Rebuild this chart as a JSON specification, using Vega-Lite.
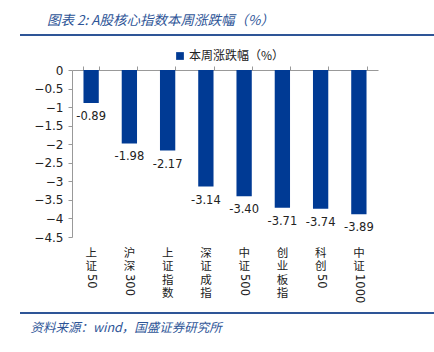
{
  "$schema": "https://vega.github.io/schema/vega-lite/v6.json",
  "width": 306,
  "height": 167,
  "autosize": "none",
  "padding": {"left": 72, "top": 70, "right": 56, "bottom": 115},
  "background": "white",
  "config": {
    "view": {"stroke": null},
    "font": "DejaVu Sans",
    "axisY": {
      "format": "~g",
      "tickCount": 10,
      "labelOverlap": false,
      "grid": false,
      "tickSize": 4,
      "domainColor": "#999",
      "tickColor": "#999",
      "labelFontSize": 12,
      "labelColor": "#222",
      "labelPadding": 5
    }
  },
  "title": {
    "text": "图表 2: A股核心指数本周涨跌幅（%）",
    "anchor": "start",
    "dx": 28,
    "offset": 7,
    "font": "Noto Sans CJK SC",
    "fontSize": 13.5,
    "fontStyle": "italic",
    "fontWeight": "normal",
    "color": "#2E5597"
  },
  "data": {
    "values": [
      {"name": "上证50", "digits": "50", "value": -0.89, "label": "-0.89", "series": "本周涨跌幅（%）"},
      {"name": "沪深300", "digits": "300", "value": -1.98, "label": "-1.98", "series": "本周涨跌幅（%）"},
      {"name": "上证指数", "digits": "", "value": -2.17, "label": "-2.17", "series": "本周涨跌幅（%）"},
      {"name": "深证成指", "digits": "", "value": -3.14, "label": "-3.14", "series": "本周涨跌幅（%）"},
      {"name": "中证500", "digits": "500", "value": -3.40, "label": "-3.40", "series": "本周涨跌幅（%）"},
      {"name": "创业板指", "digits": "", "value": -3.71, "label": "-3.71", "series": "本周涨跌幅（%）"},
      {"name": "科创50", "digits": "50", "value": -3.74, "label": "-3.74", "series": "本周涨跌幅（%）"},
      {"name": "中证1000", "digits": "1000", "value": -3.89, "label": "-3.89", "series": "本周涨跌幅（%）"}
    ]
  },
  "resolve": {"axis": {"x": "independent"}},
  "layer": [
    {
      "mark": {"type": "bar", "color": "#003A94"},
      "encoding": {
        "x": {
          "field": "name", "type": "nominal", "sort": null,
          "scale": {"paddingInner": 0.6, "paddingOuter": 0.3},
          "axis": {
            "orient": "bottom", "domain": false, "ticks": false, "labelAngle": 0,
            "labelExpr": "split(replace(datum.label, regexp('[0-9]+'), ''), '')",
            "labelFont": "Noto Sans CJK SC", "labelFontSize": 11.5, "labelLineHeight": 13.5,
            "labelBaseline": "top", "labelPadding": 10, "labelColor": "#222",
            "title": "资料来源：wind，国盛证券研究所",
            "titleAnchor": "start", "titleX": -42, "titleY": 90, "titleBaseline": "middle",
            "titleFont": "Noto Sans CJK SC", "titleFontSize": 12.5, "titleFontStyle": "italic",
            "titleFontWeight": "normal", "titleColor": "#2E5597"
          }
        },
        "y": {
          "field": "value", "type": "quantitative", "title": null,
          "scale": {"domain": [-4.5, 0], "nice": false, "zero": false}
        },
        "color": {
          "field": "series", "type": "nominal",
          "scale": {"range": ["#003A94"]},
          "legend": {
            "orient": "none", "legendX": 102, "legendY": -20, "title": null,
            "symbolType": "square", "symbolSize": 60, "symbolStrokeWidth": 0,
            "labelOffset": 3,
            "labelFont": "Noto Sans CJK SC", "labelFontSize": 12, "labelColor": "#222"
          }
        }
      }
    },
    {
      "mark": {"type": "text", "baseline": "top", "dy": 8, "fontSize": 11.5, "color": "#222"},
      "encoding": {
        "x": {
          "field": "name", "type": "nominal", "sort": null,
          "axis": {
            "orient": "top", "labels": false, "title": null, "tickBand": "extent",
            "domainColor": "#999", "tickColor": "#999", "tickSize": 4
          }
        },
        "y": {"field": "value", "type": "quantitative", "title": null},
        "text": {"field": "label"}
      }
    },
    {
      "mark": {"type": "text", "angle": 90, "align": "left", "baseline": "middle", "dx": 37, "fontSize": 11.5, "color": "#222"},
      "encoding": {
        "x": {"field": "name", "type": "nominal", "sort": null, "axis": null},
        "y": {"value": {"expr": "height"}},
        "text": {"field": "digits"}
      }
    },
    {
      "data": {"values": [{"pos": "top"}]},
      "mark": {"type": "rule", "color": "#2E5597", "strokeWidth": 2},
      "encoding": {
        "x": {"value": -52},
        "x2": {"value": 362},
        "y": {"value": -35}
      }
    },
    {
      "data": {"values": [{"pos": "bottom"}]},
      "mark": {"type": "rule", "color": "#2E5597", "strokeWidth": 2},
      "encoding": {
        "x": {"value": -52},
        "x2": {"value": 362},
        "y": {"value": 243}
      }
    }
  ]
}
